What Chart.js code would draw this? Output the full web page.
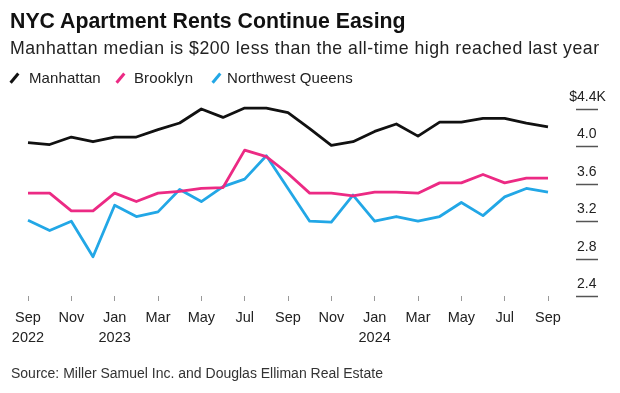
<!DOCTYPE html>
<html>
<head>
<meta charset="utf-8">
<script src="https://cdn.jsdelivr.net/npm/chart.js@4"></script>
<style>
  body { margin: 0; background: #fff; font-family: "Liberation Sans", Arial, sans-serif; color: #111; }
  #wrap { position: relative; width: 620px; height: 393px; overflow: hidden; }
  #wrap canvas { position: absolute; left: 0; top: 0; }
  .txt { position: absolute; left: 10px; white-space: nowrap; line-height: 1; }
  #title { top: 11px; font-size: 21.3px; font-weight: bold; }
  #subtitle { top: 40px; font-size: 17.7px; letter-spacing: 0.5px; color: #222; }
  .lg { top: 70px; font-size: 15px; color: #222; letter-spacing: 0.1px; }
  .sw { position: absolute; top: 72px; width: 2.6px; height: 12px; transform: rotate(40deg); }
  #source { top: 366px; left: 11px; font-size: 14px; color: #333; }
</style>
</head>
<body>
<div id="wrap">
  <canvas id="rentChart" width="620" height="393"></canvas>
  <div class="txt" id="title">NYC Apartment Rents Continue Easing</div>
  <div class="txt" id="subtitle">Manhattan median is $200 less than the all-time high reached last year</div>
  <span class="sw" style="left:13px;background:#111"></span>
  <div class="txt lg" style="left:29px">Manhattan</div>
  <span class="sw" style="left:119px;background:#ec2a84"></span>
  <div class="txt lg" style="left:134px">Brooklyn</div>
  <span class="sw" style="left:215px;background:#22a7e6"></span>
  <div class="txt lg" style="left:227px">Northwest Queens</div>
  <div class="txt" id="source">Source: Miller Samuel Inc. and Douglas Elliman Real Estate</div>
</div>
<script>
// monthly, Sep 2022 .. Sep 2024 (thousands of dollars)
const months = [['Sep', '2022'], 'Oct', 'Nov', 'Dec', ['Jan', '2023'], 'Feb', 'Mar', 'Apr', 'May', 'Jun', 'Jul', 'Aug',
    'Sep', 'Oct', 'Nov', 'Dec', ['Jan', '2024'], 'Feb', 'Mar', 'Apr', 'May', 'Jun', 'Jul', 'Aug', 'Sep']
const manhattan = [4.04, 4.02, 4.10, 4.05, 4.10, 4.10, 4.18, 4.25, 4.40, 4.31, 4.41, 4.41, 4.36,
    4.19, 4.01, 4.05, 4.16, 4.24, 4.11, 4.26, 4.26, 4.30, 4.30, 4.25, 4.21]
const brooklyn = [3.50, 3.50, 3.31, 3.31, 3.50, 3.41, 3.50, 3.52, 3.55, 3.56, 3.96, 3.89, 3.71,
    3.50, 3.50, 3.47, 3.51, 3.51, 3.50, 3.61, 3.61, 3.70, 3.61, 3.66, 3.66]
const queens = [3.21, 3.10, 3.20, 2.82, 3.37, 3.25, 3.30, 3.54, 3.41, 3.57, 3.65, 3.90, 3.55,
    3.20, 3.19, 3.48, 3.20, 3.25, 3.20, 3.25, 3.40, 3.26, 3.46, 3.55, 3.51]
const yTicks = [2.4, 2.8, 3.2, 3.6, 4.0, 4.4]

const FONT = '"Liberation Sans", Arial, sans-serif'

// right-side value labels sit above short dashes
const rightAxis = {
    id: 'rightAxis',
    afterDraw(chart) {
        const ctx = chart.ctx
        const y = chart.scales.y
        ctx.save()
        ctx.strokeStyle = '#555'
        ctx.lineWidth = 1.5
        ctx.fillStyle = '#222'
        ctx.font = '14px ' + FONT
        ctx.textBaseline = 'alphabetic'
        yTicks.forEach((v, i) => {
            const py = Math.round(y.getPixelForValue(v)) + 0.5
            ctx.beginPath()
            ctx.moveTo(576, py)
            ctx.lineTo(598, py)
            ctx.stroke()
            const txt = v.toFixed(1)
            const base = py - 9
            ctx.textAlign = 'left'
            ctx.fillText(txt, 577, base)
            if (i === yTicks.length - 1) {
                ctx.textAlign = 'right'
                ctx.fillText('$', 577, base)
                ctx.textAlign = 'left'
                ctx.fillText('K', 577 + ctx.measureText(txt).width, base)
            }
        })
        ctx.restore()
    }
}

const series = (label, data, color) => ({
    label, data,
    borderColor: color,
    borderWidth: 2.8,
    pointRadius: 0,
    tension: 0,
    borderJoinStyle: 'round',
    clip: false,
    fill: false,
})

new Chart(document.getElementById('rentChart'), {
    type: 'line',
    data: {
        labels: months,
        datasets: [
            series('Manhattan', manhattan, '#111'),
            series('Brooklyn', brooklyn, '#ec2a84'),
            series('Northwest Queens', queens, '#22a7e6'),
        ]
    },
    options: {
        responsive: false,
        animation: false,
        layout: { padding: { left: 28, top: 109, right: 0, bottom: 0 } },
        plugins: { legend: { display: false }, tooltip: { enabled: false } },
        scales: {
            x: {
                offset: false,
                border: { display: false },
                grid: {
                    drawOnChartArea: false,
                    drawTicks: true,
                    tickLength: 5,
                    lineWidth: 1,
                    color: c => (c.index % 2 ? 'rgba(0,0,0,0)' : '#999'),
                },
                ticks: {
                    autoSkip: false,
                    maxRotation: 0,
                    padding: 7,
                    color: '#222',
                    font: { family: FONT, size: 14.5, lineHeight: 1.38 },
                    callback: (v, i) => (i % 2 ? '' : months[i]),
                },
                afterFit: s => { s.height = 97 },
            },
            y: {
                position: 'right',
                min: 2.4,
                max: 4.4,
                afterBuildTicks: s => { s.ticks = yTicks.map(v => ({ value: v })) },
                grid: { display: false },
                border: { display: false },
                ticks: { display: false },
                afterFit: s => { s.width = 72 },
            }
        }
    },
    plugins: [rightAxis]
});
</script>
</body>
</html>
